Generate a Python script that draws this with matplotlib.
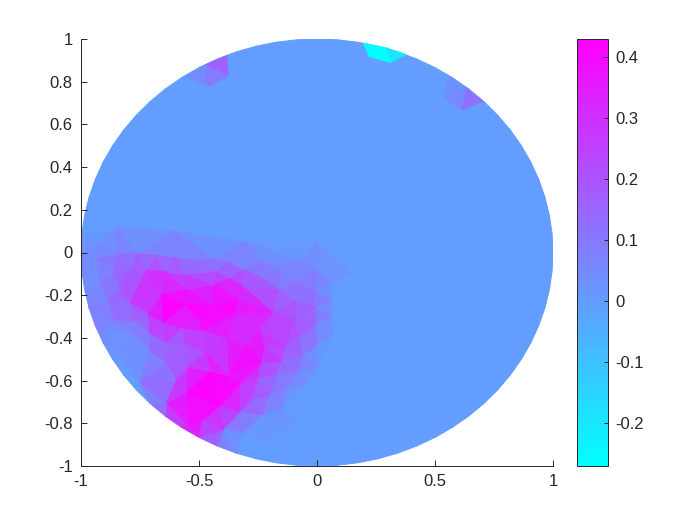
import numpy as np
import matplotlib
matplotlib.use('Agg')
import matplotlib.pyplot as plt

plt.rcParams['font.family'] = ['Liberation Sans', 'DejaVu Sans']
plt.rcParams['axes.unicode_minus'] = False

# mesh nodes inside the disc: x, y, value
node_x = [-.927,-.842,-.764,-.682,-.597,-.513,-.439,-.369,-.312,-.234,-.157,-.072,0,.062,
          -.934,-.863,-.795,-.722,-.637,-.559,-.425,-.369,-.312,-.234,-.164,-.086,-.008,.062,
          -.922,-.835,-.891,-.792,-.658,-.552,-.439,-.333,-.185,-.093,-.008,.062,-.96,
          -.651,-.559,-.503,-.347,-.439,-.778,-.863,-.90,-.715,-.566,-.482,-.298,-.242,-.072,-.093,-.008,.069,
          -.771,-.708,-.708,-.637,-.559,-.475,-.383,-.220,-.131,-.065,0,.006,-.086,-.234,-.150,-.637,-.545,-.453,-.376,
          -.75,-.595,-.552,-.326,-.249,-.171,-.037,-.199,-.131,-.277,-.150,-.227,-.326,-.411,-.482,-.545,-.637,-.397,-.312,
          .15,.15,.1,-.1,-.2,0,-.3,-.6,-.85,-.85,-.8]
node_y = [.037,-.005,-.005,-.014,-.025,-.036,-.030,-.045,-.080,-.044,-.083,-.041,-.086,-.150,
          -.033,-.087,-.083,-.083,-.092,-.103,-.087,-.123,-.158,-.119,-.173,-.134,-.181,-.220,
          -.142,-.165,-.217,-.239,-.197,-.173,-.150,-.220,-.275,-.228,-.259,-.301,-.19,
          -.326,-.244,-.314,-.290,-.251,-.322,-.314,-.36,-.290,-.353,-.368,-.439,-.353,-.392,-.311,-.345,-.384,
          -.392,-.376,-.457,-.423,-.431,-.470,-.408,-.442,-.436,-.486,-.431,-.532,-.556,-.514,-.509,-.517,-.536,-.556,-.579,
          -.61,-.595,-.657,-.614,-.595,-.571,-.610,-.665,-.639,-.689,-.728,-.759,-.743,-.720,-.782,-.81,-.704,-.829,-.845,
          -.1,-.4,-.65,-.8,-.9,.05,.05,.1,.12,-.45,-.55]
node_z = [.03,.1,.1,.1,.1,.1,.1,.1,.12,.07,.06,.04,.08,0,
          .05,.14,.18,.25,.25,.2,.15,.25,.3,.14,.12,.09,.1,0,
          .04,.15,.1,.2,.4,.32,.32,.42,.22,.15,.14,0,.05,
          .43,.42,.43,.43,.38,.13,.08,.05,.2,.2,.38,.43,.3,.2,.22,.12,0,
          .03,.12,.1,.18,.18,.2,.22,.32,.2,.1,.03,0,.1,.32,.18,.15,.2,.4,.42,
          0,.2,.43,.36,.2,.12,0,.14,.05,.2,.02,.05,.2,.42,.33,.43,.2,.1,0,
          0,0,0,0,0,0,0,0,0,0,0]

# nodes on the rim, every 5 degrees starting at angle 0
rim_z = [0]*36 + [.05,.04,.05,.06,.08,.06,.02,0,0,.03,.15,.25,.3,.1,0] + [0]*21

# small patches at the top edge, flat value per triangle
patch_x = [.196,.295,.380,.220,.312, -.552,-.470,-.383,-.376,-.463, .556,.634,.705,.613,.538]
patch_y = [.982,.959,.927,.917,.888, .826,.881,.923,.826,.776, .829,.771,.709,.665,.725]
patch_tris = [[0,1,3],[3,1,4],[1,2,4],
              [5,6,9],[6,7,8],[6,8,9],
              [10,11,14],[11,14,13],[11,12,13]]
patch_z = [-.27,-.27,-.2, .05,.17,.09, .03,.05,.12]

zmin, zmax = -.27, .43
xticks = [-1,-.5,0,.5,1]
yticks = [-1,-.8,-.6,-.4,-.2,0,.2,.4,.6,.8,1]
cticks = [-.2,-.1,0,.1,.2,.3,.4]

ang = np.deg2rad(np.arange(len(rim_z))*5)
x = np.concatenate([node_x, np.cos(ang)])
y = np.concatenate([node_y, np.sin(ang)])
z = np.concatenate([node_z, rim_z])

fig = plt.figure(figsize=(7,5.25), dpi=100)
ax = fig.add_axes([81/700, 1-466/525, 472/700, 427/525])
pc = ax.tripcolor(x, y, z, shading='flat', cmap='cool', vmin=zmin, vmax=zmax,
                  edgecolors='face', linewidth=.7)
ax.tripcolor(patch_x, patch_y, patch_tris, facecolors=np.array(patch_z), cmap='cool',
             vmin=zmin, vmax=zmax, edgecolors='face', linewidth=.3)
ax.set_xlim(-1,1)
ax.set_ylim(-1,1)
ax.set_xticks(xticks)
ax.set_xticklabels(['-1','-0.5','0','0.5','1'])
ax.set_yticks(yticks)
ax.set_yticklabels(['-1','-0.8','-0.6','-0.4','-0.2','0','0.2','0.4','0.6','0.8','1'])
ax.spines['top'].set_visible(False)
ax.spines['right'].set_visible(False)
for s in ['left','bottom']:
    ax.spines[s].set_linewidth(.7)
    ax.spines[s].set_color('#262626')
ax.tick_params(direction='in', length=4, width=.7, labelsize=12, colors='#262626', pad=6)

cax = fig.add_axes([577/700, 1-466/525, 31/700, 427/525])
cb = fig.colorbar(pc, cax=cax, ticks=cticks)
cb.ax.set_yticklabels(['-0.2','-0.1','0','0.1','0.2','0.3','0.4'])
cb.ax.tick_params(direction='in', length=3, width=.7, labelsize=12, colors='#262626', pad=5)
cb.outline.set_linewidth(.7)
cb.outline.set_edgecolor('#262626')

fig.savefig('out.png', dpi=100)
